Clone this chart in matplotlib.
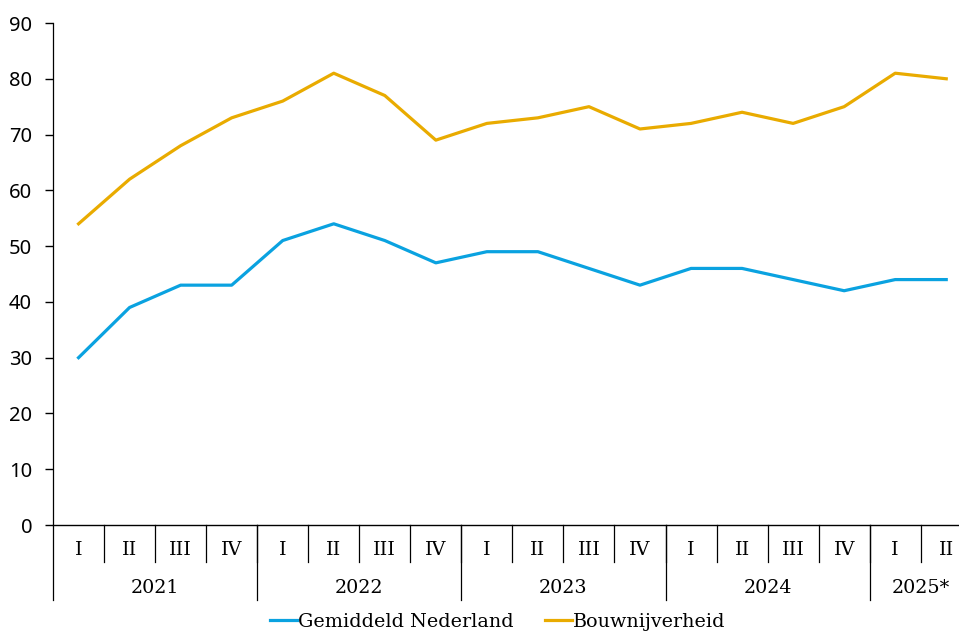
import matplotlib
matplotlib.use('Agg')
import matplotlib.pyplot as plt
import matplotlib.transforms as mtransforms

# data
quarters = ['I', 'II', 'III', 'IV'] * 4 + ['I', 'II']
years = ['2021', '2022', '2023', '2024', '2025*']
year_counts = [4, 4, 4, 4, 2]
nederland = [30, 39, 43, 43, 51, 54, 51, 47, 49, 49, 46, 43, 46, 46, 44, 42, 44, 44]
bouw = [54, 62, 68, 73, 76, 81, 77, 69, 72, 73, 75, 71, 72, 74, 72, 75, 81, 80]

blue = '#0AA2E0'
orange = '#E9AB00'
serif = 'DejaVu Serif'
fs = 13.8

fig = plt.figure(figsize=(9.59, 6.32), dpi=100)
ax = fig.add_axes([0.0553, 0.1693, 0.958, 0.7943])

x = list(range(len(quarters)))
ax.plot(x, nederland, color=blue, lw=2.3, label='Gemiddeld Nederland')
ax.plot(x, bouw, color=orange, lw=2.3, label='Bouwnijverheid')

ax.set_xlim(-0.5, len(quarters) - 0.5)
ax.set_ylim(0, 90)
ax.set_yticks(range(0, 91, 10))
ax.tick_params(axis='y', length=6, width=1, labelsize=14.5, pad=9)
for lab in ax.get_yticklabels():
    lab.set_family('Noto Sans')
ax.set_xticks([])
ax.spines['top'].set_visible(False)
ax.spines['right'].set_visible(False)
ax.spines['left'].set_visible(False)
ax.spines['bottom'].set_linewidth(1)

trans = mtransforms.blended_transform_factory(ax.transData, ax.transAxes)

# kwartalen + korte scheidingslijnen
for i, q in enumerate(quarters):
    ax.text(i, -0.05, q, transform=trans, ha='center', va='center',
            family=serif, fontsize=fs)
    if i > 0:
        ax.plot([i - 0.5, i - 0.5], [0, -0.074], transform=trans,
                color='black', lw=0.9, clip_on=False)

# jaren + lange scheidingslijnen
start = 0
for y, n in zip(years, year_counts):
    ax.text(start + n / 2 - 0.5, -0.126, y, transform=trans, ha='center',
            va='center', family=serif, fontsize=fs)
    ax.plot([start - 0.5, start - 0.5], [-0.149, 1.0] if start == 0 else [0, -0.149],
            transform=trans, color='black', lw=0.9, clip_on=False)
    start += n

fig.legend(loc='center', bbox_to_anchor=(0.519, 0.016), ncol=2, frameon=False,
           prop={'family': serif, 'size': fs}, handlelength=1.4,
           handletextpad=0.05, columnspacing=1.65, borderaxespad=0)

fig.savefig('out.png', dpi=100)
